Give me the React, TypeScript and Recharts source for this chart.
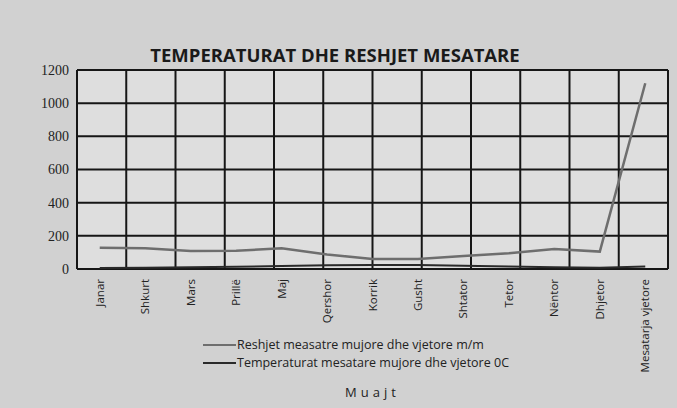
import React from 'react';
import { LineChart, Line, XAxis, YAxis, CartesianGrid, Legend, Label } from 'recharts';

// Muajt (kategoritë)
const months = [
  'Janar', 'Shkurt', 'Mars', 'Prillë', 'Maj', 'Qershor', 'Korrik',
  'Gusht', 'Shtator', 'Tetor', 'Nëntor', 'Dhjetor', 'Mesatarja vjetore',
];

// Reshjet mesatare (m/m)
const rainfall = [128, 125, 108, 110, 125, 88, 60, 60, 78, 95, 120, 105, 1120];

// Temperaturat mesatare (0C)
const temperature = [6, 7, 10, 13, 18, 22, 24, 24, 20, 15, 10, 7, 15];

const yTicks = [0, 200, 400, 600, 800, 1000, 1200];

const RAIN_NAME = 'Reshjet measatre mujore dhe vjetore m/m';
const TEMP_NAME = 'Temperaturat mesatare mujore dhe vjetore 0C';

const data = months.map((m, i) => ({
  pos: i + 0.5,
  month: m,
  rain: rainfall[i],
  temp: temperature[i],
}));

const gridTicks = months.map((_, i) => i).concat(months.length);

const MonthTick = (props: any) => {
  const { x, y, payload } = props;
  const label = months[Math.round(payload.value - 0.5)];
  return (
    <text
      x={x}
      y={y}
      transform={`rotate(-90 ${x} ${y})`}
      textAnchor="end"
      dy="0.35em"
      dx={-2}
      fontFamily="'Open Sans', sans-serif"
      fontSize={11.5}
      fill="#222"
    >
      {label}
    </text>
  );
};

const LegendBox = (props: any) => {
  const items = props.payload || [];
  return (
    <div
      style={{
        fontFamily: "'Open Sans', sans-serif",
        fontSize: 12.5,
        lineHeight: '18px',
        color: '#222',
      }}
    >
      {items.map((it: any) => (
        <div key={it.value} style={{ display: 'flex', alignItems: 'center', height: 18 }}>
          <svg width={33} height={6} style={{ marginRight: 1 }}>
            <line x1={0} y1={3} x2={33} y2={3} stroke={it.color} strokeWidth={2} />
          </svg>
          <span>{it.value}</span>
        </div>
      ))}
    </div>
  );
};

const App: React.FC = () => {
  return (
    <div
      style={{
        position: 'absolute',
        left: 0,
        top: 0,
        width: 677,
        height: 408,
        background: '#d1d1d1',
      }}
    >
      <div
        style={{
          position: 'absolute',
          left: 0,
          width: 670,
          top: 42,
          textAlign: 'center',
          fontFamily: "'Open Sans', sans-serif",
          fontWeight: 700,
          fontSize: 18.5,
          color: '#1a1a1a',
        }}
      >
        TEMPERATURAT DHE RESHJET MESATARE
      </div>
      <LineChart
        width={677}
        height={408}
        data={data}
        margin={{ top: 70, right: 9, bottom: 9, left: 17 }}
      >
        <CartesianGrid
          xAxisId="grid"
          stroke="#161616"
          strokeWidth={2}
          fill="#dedede"
          fillOpacity={1}
        />
        <XAxis xAxisId="grid" type="number" domain={[0, 13]} ticks={gridTicks} hide />
        <XAxis
          xAxisId="cat"
          type="number"
          dataKey="pos"
          domain={[0, 13]}
          ticks={data.map((d) => d.pos)}
          interval={0}
          tick={<MonthTick />}
          tickLine={false}
          axisLine={false}
          height={130}
        >
          <Label
            value="Muajt"
            position="insideBottom"
            offset={2}
            style={{
              fontFamily: "'Open Sans', sans-serif",
              fontSize: 13,
              letterSpacing: 4,
              fill: '#222',
            }}
          />
        </XAxis>
        <YAxis
          domain={[0, 1200]}
          ticks={yTicks}
          interval={0}
          width={60}
          tickLine={false}
          axisLine={false}
          tick={{ fontFamily: "'Liberation Serif', serif", fontSize: 14, fill: '#222' }}
        />
        <Line
          xAxisId="cat"
          type="linear"
          dataKey="rain"
          name={RAIN_NAME}
          stroke="#6e6e6e"
          strokeWidth={2.5}
          dot={false}
          isAnimationActive={false}
        />
        <Line
          xAxisId="cat"
          type="linear"
          dataKey="temp"
          name={TEMP_NAME}
          stroke="#2a2a2a"
          strokeWidth={2}
          dot={false}
          isAnimationActive={false}
        />
        <Legend
          layout="vertical"
          align="center"
          verticalAlign="middle"
          content={<LegendBox />}
          wrapperStyle={{ left: 203, top: 336, width: 340 }}
        />
      </LineChart>
    </div>
  );
};

export default App;
